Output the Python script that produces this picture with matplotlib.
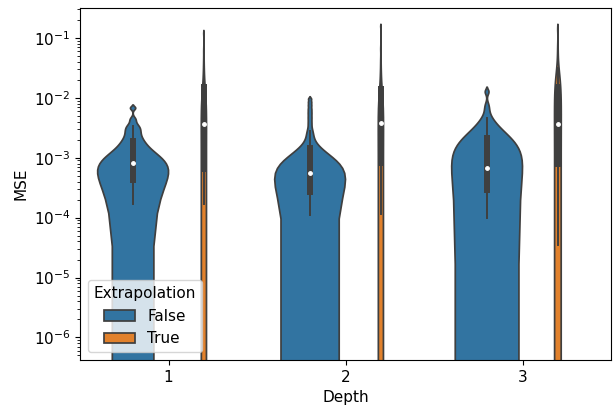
import matplotlib
matplotlib.use("Agg")
import matplotlib.pyplot as plt
import seaborn as sns
import pandas as pd

# Depth categories and hue levels
depths = ["1", "2", "3"]
hue_levels = ["False", "True"]

# Approximate MSE samples per (depth, extrapolation)
mse_d1_false = [1.7e-4, 3.0e-4, 3.5e-4, 3.8e-4, 4.0e-4, 4.2e-4, 4.3e-4,
                5.0e-4, 5.6e-4, 6.2e-4, 6.9e-4, 7.6e-4, 8.3e-4,
                9.5e-4, 1.1e-3, 1.28e-3, 1.48e-3, 1.7e-3, 1.9e-3,
                2.3e-3, 2.7e-3, 3.05e-3, 3.4e-3, 4.3e-3, 6.7e-3]
mse_d2_false = [1.1e-4, 1.5e-4, 1.8e-4, 2.0e-4, 2.15e-4, 2.3e-4, 2.4e-4, 2.5e-4, 2.58e-4, 2.65e-4, 2.7e-4,
                2.95e-4, 3.25e-4, 3.55e-4, 3.85e-4, 4.15e-4, 4.45e-4, 4.75e-4, 5.05e-4, 5.35e-4, 5.6e-4,
                6.2e-4, 6.85e-4, 7.55e-4, 8.3e-4, 9.1e-4, 1.0e-3, 1.1e-3, 1.22e-3, 1.34e-3, 1.47e-3,
                1.9e-3, 2.35e-3, 2.8e-3,
                3.7e-3, 4.6e-3, 5.5e-3, 6.4e-3, 7.4e-3, 8.4e-3, 9.5e-3]
mse_d3_false = [1.0e-4, 1.3e-4, 1.6e-4, 1.9e-4, 2.2e-4, 2.5e-4, 2.8e-4, 3.3e-4, 3.8e-4,
                4.4e-4, 5.0e-4, 5.6e-4, 6.3e-4, 7.2e-4, 8.3e-4, 9.6e-4, 1.15e-3, 1.45e-3,
                1.9e-3, 2.2e-3, 2.6e-3, 3.0e-3, 3.4e-3, 4.6e-3, 7.0e-3, 1.25e-2]
mse_d1_true = [1.7e-4, 2.4e-4, 3.2e-4, 4.0e-4, 4.8e-4, 5.7e-4, 6.6e-4, 8.5e-4, 1.1e-3,
               1.5e-3, 2.0e-3, 2.8e-3, 3.7e-3, 4.8e-3, 6.0e-3, 7.5e-3, 9.5e-3, 1.2e-2,
               1.5e-2, 1.9e-2, 2.4e-2, 3.1e-2, 4.2e-2, 6.0e-2, 1.18e-1]
mse_d2_true = [1.16e-4, 1.8e-4, 2.6e-4, 3.6e-4, 4.8e-4, 6.4e-4, 8.3e-4, 1.05e-3, 1.35e-3,
               1.75e-3, 2.3e-3, 3.0e-3, 3.8e-3, 4.8e-3, 6.0e-3, 7.5e-3, 9.0e-3, 1.1e-2,
               1.4e-2, 1.8e-2, 2.3e-2, 3.0e-2, 4.2e-2, 6.5e-2, 1.55e-1]
mse_d3_true = [3.5e-5, 8.0e-5, 1.6e-4, 2.8e-4, 4.2e-4, 6.0e-4, 8.0e-4, 1.05e-3, 1.35e-3,
               1.75e-3, 2.3e-3, 3.0e-3, 3.7e-3, 4.7e-3, 5.9e-3, 7.4e-3, 9.2e-3, 1.15e-2,
               1.5e-2, 1.9e-2, 2.4e-2, 3.1e-2, 4.3e-2, 6.6e-2, 1.4e-1]

# KDE bandwidth adjustment per depth
bw_adjust = {"1": 0.55, "2": 0.4, "3": 0.9}

groups = {
    ("1", "False"): mse_d1_false, ("2", "False"): mse_d2_false, ("3", "False"): mse_d3_false,
    ("1", "True"): mse_d1_true, ("2", "True"): mse_d2_true, ("3", "True"): mse_d3_true,
}
rows = []
for (d, h), vals in groups.items():
    for v in vals:
        rows.append({"Depth": d, "Extrapolation": h, "MSE": v})
df = pd.DataFrame(rows)

plt.rcParams["font.family"] = ["DejaVu Sans"]
plt.rcParams["font.size"] = 11

fig = plt.figure(figsize=(6.13, 4.09), dpi=100)
ax = fig.add_axes([80 / 613, 49 / 409, 531 / 613, 352 / 409])

handles, labels = None, None
for i, d in enumerate(depths):
    sub = df[df["Depth"] == d]
    sns.violinplot(data=sub, x="Depth", y="MSE", hue="Extrapolation",
                   order=depths, hue_order=hue_levels, common_norm=True,
                   bw_adjust=bw_adjust[d],
                   inner_kws=dict(marker="o", box_width=4.3, whis_width=1.4,
                                  markersize=2.6),
                   legend=(i == 0), ax=ax)
    if i == 0:
        leg = ax.get_legend()
        handles = leg.legend_handles
        labels = [t.get_text() for t in leg.get_texts()]

ax.set_yscale("log")
ax.set_ylim(4.2e-7, 10 ** -0.5)
ax.set_xlim(-0.5, 2.5)
ax.legend(handles, labels, title="Extrapolation", loc="lower left")
ax.set_xlabel("Depth")
ax.set_ylabel("MSE")

fig.savefig("out.png", dpi=100)
